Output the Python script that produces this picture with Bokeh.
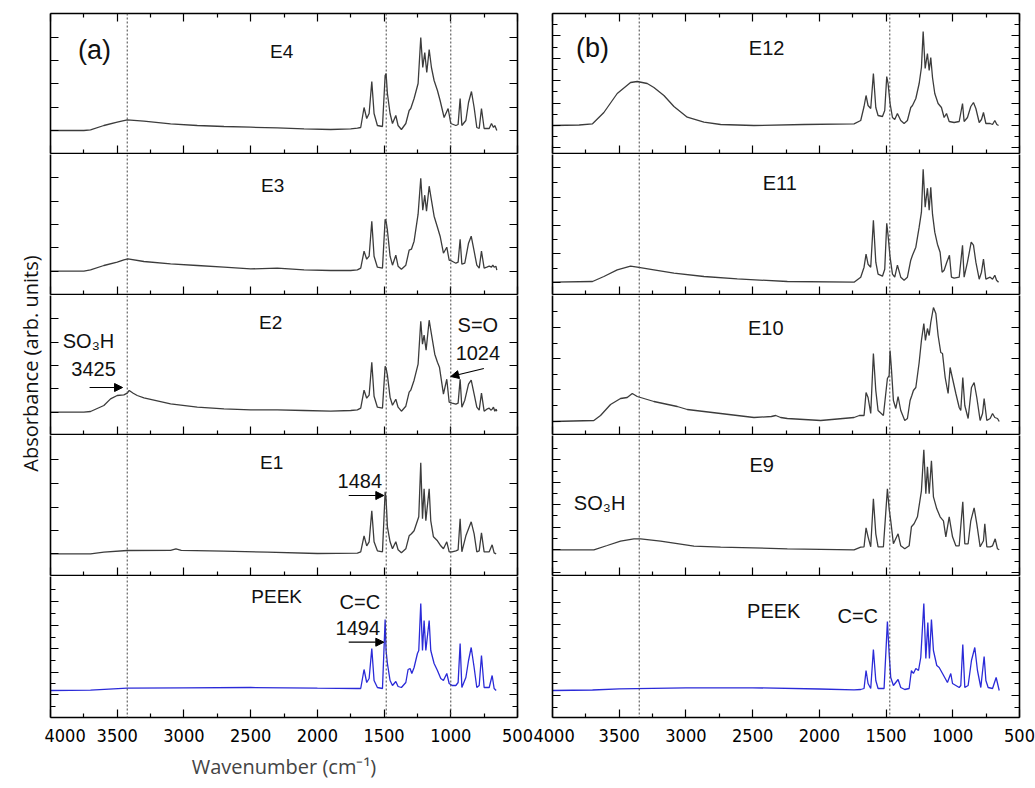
import math
from bokeh.plotting import figure
from bokeh.models import Range1d, FixedTicker, LinearAxis, Span, Label, Arrow, NormalHead
from bokeh.layouts import row, column
from bokeh.embed import file_html
from bokeh.resources import INLINE

# ---------------- data: (wavenumber cm-1, absorbance a.u. above panel baseline) ----------------
E4 = [(4000,0),(3750,0),(3700,0.7),(3600,5),(3500,8.3),(3425,10.7),(3300,9.3),(3100,6.7),(2900,5),(2700,4),
      (2500,3.3),(2300,2.7),(2100,1.7),(1900,1),(1750,1.7),(1700,2.3),(1675,3),(1650,23),(1630,12),(1612,17),
      (1592,49),(1575,17),(1550,5),(1512,4),(1492,55),(1485,57),(1475,37),(1455,17),(1437,7),(1412,15),
      (1395,5),(1370,1),(1337,7),(1312,20),(1300,22),(1275,32),(1245,47),(1225,93),(1210,63),(1195,78),
      (1180,58),(1162,81),(1145,63),(1125,50),(1100,40),(1080,30),(1050,13),(1020,22),(1000,7),(962,5),
      (945,6),(930,32),(917,5),(887,10),(867,28),(845,39),(825,23),(805,3),(787,2),(770,22),
      (750,2),(712,2),(695,7),(680,3),(670,5),(655,0)]
E3 = [(4000,0),(3750,0),(3700,1.3),(3600,5.7),(3500,9),(3450,11.3),(3420,12.3),(3300,9.7),(3100,7.3),(2900,5.7),
      (2700,4),(2500,2.3),(2300,3),(2100,1.3),(1900,0.7),(1750,0.7),(1700,1.3),(1675,3),(1650,20),(1630,12),
      (1612,15),(1592,50),(1575,15),(1550,4),(1512,3),(1492,52),(1485,50),(1475,41),(1455,15),(1437,6),
      (1412,16),(1395,5),(1370,2),(1337,6),(1312,21),(1295,22),(1275,30),(1245,57),(1225,93),(1210,61),
      (1195,76),(1182,60),(1162,85),(1145,71),(1125,55),(1100,44),(1080,35),(1055,18),(1030,24),(1012,11),
      (990,10),(962,8),(945,9),(930,32),(917,7),(895,8),(867,28),(847,35),(825,20),(805,6),
      (787,3),(770,20),(750,3),(730,4),(712,5),(695,4),(685,6),(675,4),(662,5),(655,1)]
E2 = [(4000,0),(3750,0),(3700,0.7),(3600,6.7),(3550,13.3),(3500,16.7),(3450,17.3),(3425,19),(3410,21.7),(3380,19),
      (3350,16.7),(3300,14.3),(3100,8.3),(2900,5),(2700,3.3),(2500,2.3),(2300,2.3),(2100,1.7),(1900,1),(1750,1.7),
      (1700,2.3),(1675,4),(1650,22),(1630,14),(1612,17),(1592,50),(1575,16),(1550,5),(1512,4),(1492,46),
      (1485,44),(1475,37),(1455,15),(1437,7),(1412,13),(1395,5),(1370,1),(1337,6),(1312,20),(1300,22),
      (1275,32),(1245,48),(1225,91),(1212,68),(1200,77),(1185,62),(1162,92),(1145,78),(1120,58),(1100,50),
      (1085,45),(1055,18),(1030,33),(1012,10),(990,9),(962,8),(945,9),(930,33),(917,5),(895,12),
      (867,28),(847,32),(825,18),(805,5),(787,2),(770,19),(750,1),(730,3),(712,4),(700,2),
      (690,3),(680,5),(670,1),(660,3),(655,1)]
E1 = [(4000,0),(3700,0),(3600,1.7),(3425,3.3),(3100,3.5),(3060,5),(3020,3.5),(2700,2.7),(2375,1.7),(2000,0.3),
      (1700,0.7),(1675,2),(1650,18),(1630,8),(1612,12),(1592,43),(1575,12),(1550,3),(1512,2),(1492,62),
      (1485,55),(1475,27),(1455,12),(1437,5),(1412,12),(1395,4),(1370,1),(1337,5),(1312,18),(1295,20),
      (1275,23),(1250,33),(1240,37),(1225,91),(1212,35),(1200,65),(1187,33),(1162,65),(1150,33),(1130,17),
      (1100,13),(1075,8),(1055,5),(1030,12),(1012,2),(990,2),(962,3),(945,4),(930,35),(917,2),
      (887,18),(867,25),(847,32),(825,20),(805,2),(787,3),(770,21),(750,2),(712,2),(690,9),
      (675,1),(660,0)]
PEEK_A = [(4000,0),(3700,0.3),(3425,2.3),(3000,2.7),(2500,3),(2000,2.3),(1700,2),(1675,2),(1650,21),(1630,8),
          (1612,12),(1592,42),(1575,10),(1550,3),(1512,2),(1492,71),(1485,40),(1475,27),(1455,10),(1437,5),
          (1412,9),(1395,4),(1370,3),(1337,8),(1320,21),(1305,22),(1292,17),(1275,23),(1250,37),(1240,40),
          (1225,87),(1212,40),(1200,70),(1187,40),(1162,70),(1150,40),(1125,27),(1100,20),(1075,12),(1055,10),
          (1030,17),(1012,7),(990,5),(962,5),(945,8),(930,47),(917,3),(887,13),(867,30),(847,43),
          (825,23),(805,3),(787,5),(770,35),(750,3),(712,3),(690,15),(675,2),(660,0)]
E12 = [(4000,0),(3800,0.5),(3700,1.7),(3615,13),(3515,32),(3415,43),(3365,44),(3290,42),(3240,38),(3165,30),
       (3090,19),(2990,8.3),(2865,3.3),(2740,1),(2490,0),(2115,1),(1740,1.7),(1690,5),(1665,19),(1650,30),
       (1635,20),(1615,17),(1595,52),(1577,18),(1560,10),(1527,9),(1510,15),(1495,49),(1485,42),(1470,22),
       (1452,8),(1435,6),(1415,12),(1390,5),(1365,2),(1340,5),(1315,18),(1302,20),(1277,27),(1252,42),
       (1235,58),(1222,94),(1207,57),(1190,72),(1177,55),(1165,68),(1152,48),(1135,32),(1110,22),(1085,18),
       (1065,8),(1047,12),(1027,4),(990,3),(952,4),(927,22),(915,4),(890,8),(865,19),(845,23),
       (827,17),(802,3),(785,6),(770,13),(752,2),(720,2),(702,1),(685,5),(670,1),(657,0)]
E11 = [(4000,0),(3700,0.7),(3615,5.7),(3515,12.3),(3415,16),(3365,15),(3240,12.3),(3090,9),(2865,5.7),(2615,3.3),
       (2240,0.7),(1740,0),(1690,5),(1665,15),(1650,28),(1635,18),(1615,15),(1595,62),(1577,20),(1560,8),
       (1527,6),(1510,13),(1495,59),(1485,47),(1470,25),(1452,8),(1435,5),(1415,17),(1390,5),(1365,2),
       (1340,5),(1315,22),(1302,27),(1277,35),(1252,55),(1235,70),(1222,113),(1207,75),(1190,94),(1177,72),
       (1165,95),(1152,68),(1135,50),(1115,38),(1095,30),(1080,10),(1065,12),(1045,20),(1025,27),(1010,5),
       (990,4),(952,5),(927,37),(915,5),(890,20),(862,40),(845,37),(827,20),(802,3),(785,10),
       (770,23),(752,3),(720,5),(702,3),(685,7),(672,2),(657,0)]
E10 = [(4000,0),(3690,1),(3640,6),(3565,17),(3490,23),(3440,24),(3402,28),(3365,25),(3240,20),(3065,15),
       (2990,12),(2740,8),(2490,4),(2360,5),(2327,6),(2290,4),(2240,3),(1990,1),(1740,4),(1700,6),
       (1665,6),(1650,29),(1635,24),(1615,8),(1595,68),(1577,31),(1560,11),(1520,6),(1490,43),(1477,46),
       (1470,71),(1460,53),(1445,21),(1427,13),(1410,25),(1390,11),(1360,1),(1340,3),(1320,21),(1307,26),
       (1295,31),(1277,34),(1252,59),(1235,81),(1217,98),(1205,81),(1190,93),(1177,86),(1165,99),(1145,114),
       (1127,108),(1110,86),(1090,69),(1077,68),(1057,44),(1035,28),(1020,54),(1002,43),(977,28),(952,14),
       (940,11),(925,44),(910,16),(885,3),(860,34),(840,39),(820,24),(795,1),(777,8),(765,23),
       (745,1),(720,3),(702,8),(685,4),(665,3),(652,0)]
E9 = [(4000,0),(3690,0),(3590,4.3),(3490,8.7),(3390,11),(3340,11),(3190,8.7),(3090,6.7),(2940,3.7),(2740,2.7),
      (2240,1),(1740,0),(1690,2.7),(1665,3),(1650,22),(1635,13),(1615,3),(1595,51),(1577,16),(1560,3),
      (1520,3),(1490,61),(1477,41),(1465,29),(1445,6),(1410,16),(1390,4),(1360,1),(1327,4),(1310,23),
      (1290,26),(1265,33),(1235,59),(1217,100),(1202,56),(1190,83),(1177,56),(1160,89),(1145,53),(1120,41),
      (1095,33),(1070,29),(1052,13),(1027,33),(1002,13),(977,4),(952,4),(925,48),(910,6),(885,6),
      (865,29),(840,42),(820,26),(795,3),(770,9),(760,26),(745,3),(720,3),(702,4),(682,11),
      (665,1),(652,0)]
PEEK_B = [(4000,0),(3700,0.5),(3500,1.7),(3000,2.7),(2500,2.7),(2000,1.5),(1740,0.7),(1690,1),(1665,2),(1650,20),
          (1635,7),(1615,2),(1595,41),(1577,10),(1560,2),(1515,2),(1490,69),(1477,37),(1465,13),(1445,5),
          (1410,11),(1390,3),(1360,1),(1327,2),(1310,20),(1295,17),(1277,22),(1257,20),(1240,33),(1217,87),
          (1202,32),(1187,68),(1175,32),(1160,71),(1145,40),(1120,25),(1102,23),(1077,17),(1040,8),(1015,17),
          (1002,7),(977,5),(952,3),(940,5),(925,46),(910,3),(885,5),(860,30),(835,43),(815,20),
          (790,3),(765,34),(752,10),(735,3),(702,2),(675,13),(652,0)]

LEFT_SPECTRA = [E4, E3, E2, E1, PEEK_A]
RIGHT_SPECTRA = [E12, E11, E10, E9, PEEK_B]
LEFT_NAMES = ["E4", "E3", "E2", "E1", "PEEK"]
RIGHT_NAMES = ["E12", "E11", "E10", "E9", "PEEK"]
LEFT_MARKS = [3425, 1484, 1000]
RIGHT_MARKS = [3350, 1472]
X_MAJOR = [4000, 3500, 3000, 2500, 2000, 1500, 1000, 500]
X_MINOR = [3750, 3250, 2750, 2250, 1750, 1250, 750]

# ---------------- layout (page pixel geometry) ----------------
FRAMES = [(13, 153), (154, 294), (295, 434), (435, 575), (576, 717)]
FW = 467
BASE_L = [130, 270.7, 411.7, 553.3, 690]
BASE_R = [125, 281.7, 421, 549.3, 690]
TICKS_L = [([36.7, 60, 83.3, 106.7, 130], []),
           ([177.3, 200.7, 224, 247.3, 270.7], []),
           ([318.3, 341.7, 365, 388.3, 411.7], []),
           ([459.3, 482.7, 506.7, 530, 553.3], []),
           ([601, 625, 648.3, 671.7, 694.3], [589.3, 612.7, 636.7, 660, 683.3, 706])]
TICKS_R = [([125, 102.6, 80.2, 57.8, 35.4, 147.4], [136.2, 113.8, 91.4, 69, 46.6, 24.2]),
           ([281.7, 253.3, 225, 196.7, 166.7], [267.7, 239.3, 210, 181.7]),
           ([421, 389.3, 358.3, 326.7], [405, 374, 342.7, 310.7]),
           ([549.3, 526.7, 504, 481.7, 459.3, 571.7], [560.7, 538.3, 515, 492.7, 470.7, 448.3]),
           ([601.7, 624.3, 648.3, 671.7, 695], [590, 613.3, 636.7, 660, 683.3, 706.7])]

GRAY = "#3c3c3c"
BLUE = "#2a2ad8"
TXT_FONT = "Liberation Sans"
TICK_FONT = "Liberation Sans Narrow, DejaVu Sans Condensed, sans-serif"
BOTTOM_BORDER = 70


def style_hidden(ax):
    ax.major_label_text_font_size = "0px"
    ax.major_label_text_color = None
    ax.major_label_standoff = 0
    ax.axis_line_color = "black"
    ax.axis_line_width = 1.6
    ax.major_tick_line_color = "black"
    ax.minor_tick_line_color = "black"
    ax.major_tick_line_width = 1.2
    ax.minor_tick_line_width = 1.2
    ax.major_tick_out = 0
    ax.minor_tick_out = 0


def make_panel(k, spec, base, ticks, marks, left_b, right_b, color, bottom_label):
    top, bot = FRAMES[k]
    is_top = k == 0
    is_bot = k == 4
    p = figure(frame_width=FW, frame_height=bot - top,
               x_range=Range1d(4000, 500), y_range=Range1d(base - bot, base - top),
               output_backend="svg", toolbar_location=None,
               min_border_left=left_b, min_border_right=right_b,
               min_border_top=top if is_top else 0,
               min_border_bottom=BOTTOM_BORDER if is_bot else 1,
               outline_line_color=None)
    p.xgrid.visible = False
    p.ygrid.visible = False
    # x axis (bottom)
    xa = p.xaxis[0]
    xa.ticker = FixedTicker(ticks=X_MAJOR, minor_ticks=X_MINOR)
    style_hidden(xa)
    xa.major_tick_in = 8
    xa.minor_tick_in = 4
    if is_bot:
        xa.major_label_text_font_size = "18px"
        xa.major_label_text_font = TICK_FONT
        xa.major_label_text_color = "black"
        xa.major_label_standoff = 11
        if bottom_label:
            xa.axis_label = "Wavenumber (cm\u207b\u00b9)"
            xa.axis_label_text_font = "Open Sans"
            xa.axis_label_text_font_size = "20px"
            xa.axis_label_text_font_style = "normal"
            xa.axis_label_standoff = 8
    if is_top:
        ta = LinearAxis(ticker=FixedTicker(ticks=X_MAJOR, minor_ticks=X_MINOR))
        style_hidden(ta)
        ta.major_tick_in = 8
        ta.minor_tick_in = 4
        p.add_layout(ta, "above")
    # y axes
    maj = [base - t for t in ticks[0]]
    mnr = [base - t for t in ticks[1]]
    ya = p.yaxis[0]
    ya.ticker = FixedTicker(ticks=maj, minor_ticks=mnr)
    style_hidden(ya)
    ya.major_tick_in = 8
    ya.minor_tick_in = 5
    ra = LinearAxis(ticker=FixedTicker(ticks=maj, minor_ticks=mnr))
    style_hidden(ra)
    ra.major_tick_in = 8
    ra.minor_tick_in = 5
    p.add_layout(ra, "right")
    for m in marks:
        p.add_layout(Span(location=m, dimension="height", line_color="#444444",
                          line_dash="2 2", line_width=1))
    xs = [a for a, b in spec]
    ys = [b for a, b in spec]
    p.line(xs, ys, line_color=color, line_width=1.3)
    return p


def lab(p, x, y, text, size, font=TXT_FONT):
    p.add_layout(Label(x=x, y=y, text=text, text_font=font, text_font_size=size,
                       text_align="center", text_baseline="middle", text_color="#111111"))


def arrow(p, x0, y0, x1, y1):
    p.add_layout(Arrow(end=NormalHead(size=8, fill_color="black", line_color="black", line_width=1),
                       x_start=x0, y_start=y0, x_end=x1, y_end=y1,
                       line_color="black", line_width=1.2))


left_figs = []
right_figs = []
for k in range(5):
    color = BLUE if k == 4 else GRAY
    left_figs.append(make_panel(k, LEFT_SPECTRA[k], BASE_L[k], TICKS_L[k], LEFT_MARKS, 6, 16, color, True))
    right_figs.append(make_panel(k, RIGHT_SPECTRA[k], BASE_R[k], TICKS_R[k], RIGHT_MARKS, 19, 16, color, False))

# left column annotations
L = left_figs
lab(L[0], 3670, 81, "(a)", "27px")
lab(L[0], 2267, 79, LEFT_NAMES[0], "19px")
lab(L[1], 2335, 85.7, LEFT_NAMES[1], "19px")
lab(L[2], 2350, 89.7, LEFT_NAMES[2], "19px")
lab(L[3], 2342, 91.3, LEFT_NAMES[3], "19px")
lab(L[4], 2305, 94, LEFT_NAMES[4], "19px")
lab(L[2], 3715, 71.7, "SO\u2083H", "20px")
lab(L[2], 3677, 43.7, "3425", "20px")
arrow(L[2], 3707, 24.7, 3460, 24.7)
lab(L[2], 797, 87.7, "S=O", "20px")
lab(L[2], 797, 59.7, "1024", "20px")
arrow(L[2], 752, 43.7, 1000, 35.7)
lab(L[3], 1682, 73.3, "1484", "20px")
arrow(L[3], 1765, 58.3, 1502, 58.3)
lab(L[4], 1682, 89, "C=C", "20px")
lab(L[4], 1697, 63, "1494", "20px")
arrow(L[4], 1765, 48.3, 1502, 48.3)

# right column annotations
R = right_figs
lab(R[0], 3700, 78, "(b)", "27px")
lab(R[0], 2395, 78, RIGHT_NAMES[0], "20px")
lab(R[1], 2297, 99.7, RIGHT_NAMES[1], "20px")
lab(R[2], 2402, 94, RIGHT_NAMES[2], "20px")
lab(R[3], 2432, 85.3, RIGHT_NAMES[3], "20px")
lab(R[3], 3647, 47.3, "SO\u2083H", "20px")
lab(R[4], 2342, 80, RIGHT_NAMES[4], "20px")
lab(R[4], 1712, 75, "C=C", "20px")

# y-axis title strip
TOTAL_H = 717 + BOTTOM_BORDER
ylab = figure(width=44, height=TOTAL_H, x_range=Range1d(0, 1), y_range=Range1d(0, 1),
              toolbar_location=None, output_backend="svg", min_border=0,
              outline_line_color=None, x_axis_type=None, y_axis_type=None)
ylab.add_layout(Label(x=30, y=TOTAL_H - 363, x_units="screen", y_units="screen",
                      text="Absorbance (arb. units)", angle=math.pi / 2,
                      text_align="center", text_baseline="middle",
                      text_font="Open Sans", text_font_size="20px", text_color="#111111"))

layout = row(ylab, column(*left_figs, spacing=0), column(*right_figs, spacing=0), spacing=0)

open("out.html", "w").write(file_html(layout, INLINE))
